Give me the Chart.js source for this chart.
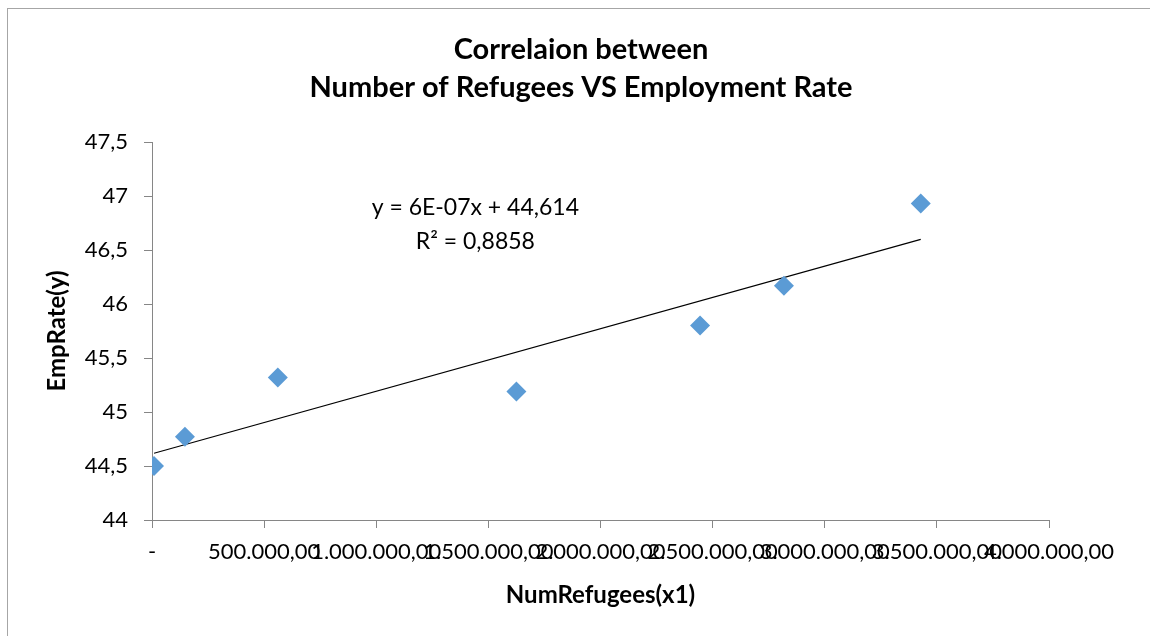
<!DOCTYPE html>
<html>
<head>
<meta charset="utf-8">
<title>Correlaion between Number of Refugees VS Employment Rate</title>
<script src="https://cdn.jsdelivr.net/npm/chart.js@4.4.1/dist/chart.umd.min.js"></script>
<style>
    html, body { margin: 0; padding: 0; background: #fff; overflow: hidden; }
    #wrap { position: relative; width: 1150px; height: 636px; }
    #frame {
        position: absolute; left: 7px; top: 8px; width: 1200px; height: 700px;
        border-left: 1px solid #a6a6a6; border-top: 1px solid #a6a6a6;
        pointer-events: none;
    }
    canvas { position: absolute; left: 0; top: 0; }
</style>
</head>
<body>
<div id="wrap">
    <div id="frame"></div>
    <canvas id="scatterChart" width="1150" height="636"></canvas>
</div>
<script>
// Data
const numRefugees = [9000, 147000, 561000, 1625000, 2444000, 2818000, 3428000];
const empRate = [44.5, 44.77, 45.32, 45.19, 45.8, 46.17, 46.93];

const titleLines = ['Correlaion between', 'Number of Refugees VS Employment Rate'];
const equationLines = ['y = 6E-07x + 44,614', 'R\u00b2 = 0,8858'];
// Where the equation label sits, in data units
const equationAnchor = { x: 1442000, y: [46.89, 46.58] };

const FONT = 'Lato, "Open Sans", sans-serif';

// Least squares fit, same as the Excel trendline
function linearFit(xs, ys) {
    const n = xs.length;
    const mx = xs.reduce((a, b) => a + b, 0) / n;
    const my = ys.reduce((a, b) => a + b, 0) / n;
    let sxy = 0, sxx = 0;
    for (let i = 0; i < n; i++) {
        sxy += (xs[i] - mx) * (ys[i] - my);
        sxx += (xs[i] - mx) * (xs[i] - mx);
    }
    const slope = sxy / sxx;
    return { slope, intercept: my - slope * mx };
}

const fit = linearFit(numRefugees, empRate);
const xFirst = numRefugees[0];
const xLast = numRefugees[numRefugees.length - 1];
const trendPoints = [
    { x: xFirst, y: fit.intercept + fit.slope * xFirst },
    { x: xLast, y: fit.intercept + fit.slope * xLast }
];

// Excel style number formats
function formatX(v) {
    if (v === 0) return '-';
    const parts = v.toFixed(2).split('.');
    return parts[0].replace(/\B(?=(\d{3})+(?!\d))/g, '.') + ',' + parts[1];
}
function formatY(v) {
    return String(v).replace('.', ',');
}

// Chart title, centred over the whole chart box like Excel does
const chartTitle = {
    id: 'chartTitle',
    afterDraw(chart) {
        const { ctx } = chart;
        ctx.save();
        ctx.fillStyle = '#000';
        ctx.font = 'bold 29px ' + FONT;
        ctx.textAlign = 'center';
        ctx.textBaseline = 'middle';
        titleLines.forEach((line, i) => ctx.fillText(line, 581, 50 + i * 38));
        ctx.restore();
    }
};

// Draws the trendline equation
const equationLabel = {
    id: 'equationLabel',
    afterDatasetsDraw(chart) {
        const { ctx, scales } = chart;
        ctx.save();
        ctx.fillStyle = '#000';
        ctx.font = '23px ' + FONT;
        ctx.textAlign = 'center';
        ctx.textBaseline = 'middle';
        equationLines.forEach((line, i) => {
            ctx.fillText(line, scales.x.getPixelForValue(equationAnchor.x),
                scales.y.getPixelForValue(equationAnchor.y[i]));
        });
        ctx.restore();
    }
};

Chart.defaults.color = '#000';
Chart.defaults.font.family = FONT;

const ctx = document.getElementById('scatterChart').getContext('2d');
new Chart(ctx, {
    type: 'scatter',
    data: {
        datasets: [
            {
                label: 'EmpRate',
                data: numRefugees.map((x, i) => ({ x, y: empRate[i] })),
                pointStyle: 'rectRot',
                pointRadius: 10,
                pointHoverRadius: 10,
                backgroundColor: '#5b9bd5',
                borderColor: '#5b9bd5',
                borderWidth: 0
            },
            {
                label: 'Trend',
                data: trendPoints,
                showLine: true,
                pointRadius: 0,
                borderColor: '#000',
                borderWidth: 1.2
            }
        ]
    },
    options: {
        responsive: false,
        animation: false,
        layout: { padding: { left: 0, right: 101, top: 142, bottom: 0 } },
        plugins: {
            legend: { display: false },
            tooltip: { enabled: false },
            title: { display: false }
        },
        scales: {
            x: {
                type: 'linear',
                min: 0,
                max: 4000000,
                afterFit: (scale) => { scale.height = 116; },
                border: { color: '#868686', width: 1 },
                grid: { drawOnChartArea: false, tickLength: 8, color: '#868686' },
                ticks: {
                    stepSize: 500000,
                    autoSkip: false,
                    maxRotation: 0,
                    minRotation: 0,
                    padding: 11,
                    font: { size: 22 },
                    callback: (v) => formatX(v)
                },
                title: {
                    display: true,
                    text: 'NumRefugees(x1)',
                    font: { size: 24, weight: 'bold' },
                    padding: { top: 0, bottom: 26 }
                }
            },
            y: {
                min: 44,
                max: 47.5,
                afterFit: (scale) => { scale.width = 152; },
                border: { color: '#868686', width: 1 },
                grid: { drawOnChartArea: false, tickLength: 8, color: '#868686' },
                ticks: {
                    stepSize: 0.5,
                    padding: 16,
                    font: { size: 22 },
                    callback: (v) => formatY(v)
                },
                title: {
                    display: true,
                    text: 'EmpRate(y)',
                    font: { size: 24, weight: 'bold' },
                    padding: { top: 43, bottom: 0 }
                }
            }
        }
    },
    plugins: [equationLabel, chartTitle]
});
</script>
</body>
</html>
